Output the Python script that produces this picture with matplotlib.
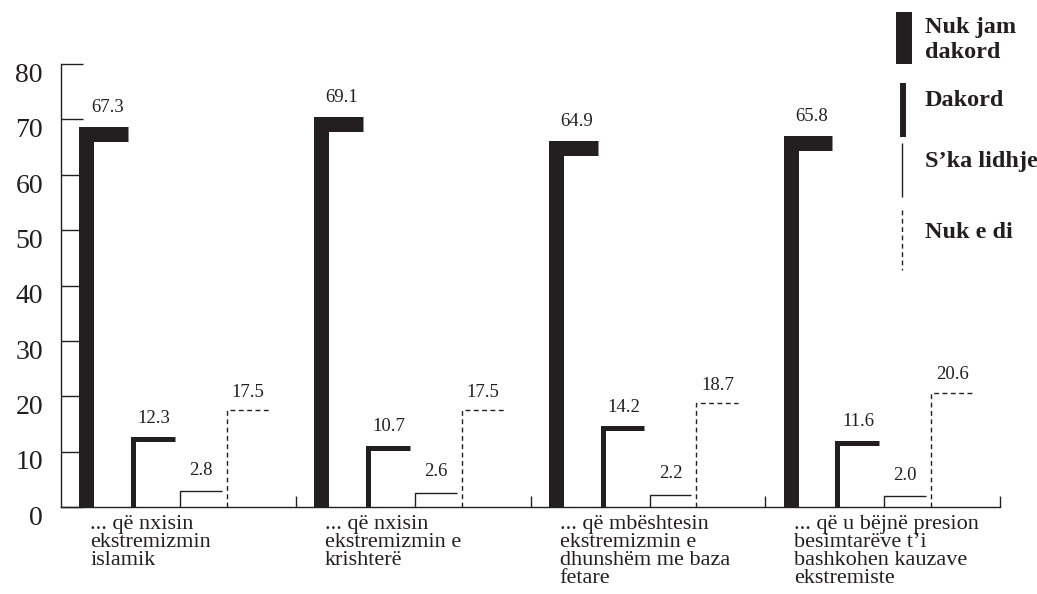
"""Inverted-L bar chart: attitudes towards religious extremism"""

import matplotlib
matplotlib.use("Agg")

import matplotlib.pyplot as plt
from matplotlib.lines import Line2D
from matplotlib.transforms import ScaledTranslation

# ==========================================================
# DATA
# ==========================================================

categories = [
    "... që nxisin\nekstremizmin\nislamik",
    "... që nxisin\nekstremizmin e\nkrishterë",
    "... që mbështesin\nekstremizmin e\ndhunshëm me baza\nfetare",
    "... që u bëjnë presion\nbesimtarëve t’i\nbashkohen kauzave\nekstremiste",
]

series_names = ["Nuk jam\ndakord", "Dakord", "S’ka lidhje", "Nuk e di"]

nuk_jam_dakord = [67.3, 69.1, 64.9, 65.8]
dakord = [12.3, 10.7, 14.2, 11.6]
ska_lidhje = [2.8, 2.6, 2.2, 2.0]
nuk_e_di = [17.5, 17.5, 18.7, 20.6]

series_values = [nuk_jam_dakord, dakord, ska_lidhje, nuk_e_di]

y_ticks = [0, 10, 20, 30, 40, 50, 60, 70, 80]

# ==========================================================
# STYLE
# ==========================================================

INK = "#231f20"
SERIF = ["Liberation Serif", "DejaVu Serif"]

offsets = [0.108, 0.307, 0.507, 0.707]    # vertical stroke position inside a group
arm = 0.178                               # length of the horizontal arm
widths = [10.8, 3.6, 1.0, 1.0]            # line widths (pt)
styles = ["-", "-", "-", (0, (3.5, 2.5))]
label_pad = [19, 15, 15, 13]              # value label offset (pt)

# ==========================================================
# FIGURE
# ==========================================================

fig = plt.figure(figsize=(10.37, 5.94), dpi=100, facecolor="white")
ax = fig.add_axes([61 / 1037, 1 - 507 / 594, 939 / 1037, 443 / 594])

ax.set_xlim(0, 4)
ax.set_ylim(0, 80)

for sp in ["top", "right"]:
    ax.spines[sp].set_visible(False)
for sp in ["left", "bottom"]:
    ax.spines[sp].set_color(INK)
    ax.spines[sp].set_linewidth(1.0)

ax.set_yticks(y_ticks)
ax.set_yticklabels([str(t) for t in y_ticks], fontsize=20, family=SERIF, color=INK)
ax.tick_params(axis="y", direction="in", length=16, width=1.0, color=INK, pad=13)

ax.set_xticks([1, 2, 3, 4])
ax.set_xticklabels([])
ax.tick_params(axis="x", direction="in", length=8, width=1.0, color=INK)

# old-style figures sit a little low in the original
shift = ScaledTranslation(0, -6 / 72, fig.dpi_scale_trans)
for lab in ax.get_yticklabels():
    lab.set_transform(lab.get_transform() + shift)

# ==========================================================
# BARS (inverted L shapes)
# ==========================================================

for s, vals in enumerate(series_values):
    for g, v in enumerate(vals):
        x = g + offsets[s]
        ax.plot(
            [x, x, x + arm],
            [0, v, v],
            color=INK,
            lw=widths[s],
            ls=styles[s],
            solid_joinstyle="miter",
            solid_capstyle="butt",
            dash_capstyle="butt",
            zorder=3,
            clip_on=False,
        )
        ax.annotate(
            f"{v:.1f}",
            xy=(x + arm / 2, v),
            xytext=(0, label_pad[s]),
            textcoords="offset points",
            ha="center",
            va="center",
            fontsize=13.5,
            family=SERIF,
            color=INK,
        )

# ==========================================================
# CATEGORY LABELS
# ==========================================================

for g, cat in enumerate(categories):
    ax.annotate(
        cat,
        xy=(g + 0.124, 0),
        xycoords=("data", "axes fraction"),
        xytext=(0, -6),
        textcoords="offset points",
        ha="left",
        va="top",
        fontsize=16,
        family=SERIF,
        color=INK,
        linespacing=0.93,
    )

# ==========================================================
# LEGEND (drawn by hand, top right)
# ==========================================================

W, H = 1037, 594
legend_rows = [
    # x of stroke, y top, y bottom, text y centre (pixels)
    (904, 12, 64, 40),
    (903, 83, 137, 100),
    (902, 143, 197, 162),
    (902, 210, 270, 232),
]
legend_lw = [11.5, 4.3, 1.0, 1.0]

for i, (lx, y0, y1, ty) in enumerate(legend_rows):
    fig.add_artist(
        Line2D(
            [lx / W, lx / W],
            [1 - y0 / H, 1 - y1 / H],
            transform=fig.transFigure,
            color=INK,
            lw=legend_lw[i],
            ls=styles[i],
            solid_capstyle="butt",
            dash_capstyle="butt",
        )
    )
    fig.text(
        925 / W,
        1 - ty / H,
        series_names[i],
        fontsize=17.5,
        fontweight="bold",
        family=SERIF,
        color=INK,
        ha="left",
        va="center",
        linespacing=1.25,
    )

# ==========================================================
# SAVE
# ==========================================================

fig.savefig("out.png", dpi=100, facecolor="white")
plt.close()
